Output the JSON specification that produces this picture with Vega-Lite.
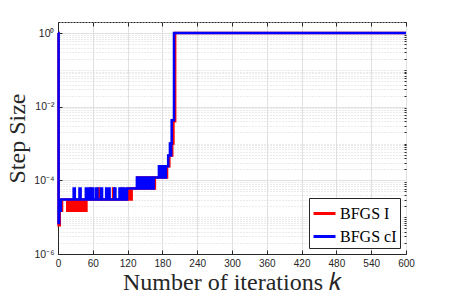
{
  "$schema": "https://vega.github.io/schema/vega-lite/v6.json",
  "width": 348,
  "height": 232,
  "autosize": {"type": "none"},
  "padding": {"left": 58, "top": 22, "right": 43, "bottom": 45},
  "background": "white",
  "config": {
    "view": {"stroke": "#262626", "strokeWidth": 1},
    "axis": {"domainColor": "#262626", "tickColor": "#262626", "labelColor": "#262626", "titleColor": "#262626"}
  },
  "data": {
    "values": [
      {"k": 0, "s": 1, "m": "BFGS I"},
      {"k": 1, "s": 6e-6, "m": "BFGS I"},
      {"k": 3, "s": 1.5e-5, "m": "BFGS I"},
      {"k": 7, "s": 3e-5, "m": "BFGS I"},
      {"k": 16, "s": 1.5e-5, "m": "BFGS I"},
      {"k": 17, "s": 3e-5, "m": "BFGS I"},
      {"k": 20, "s": 1.5e-5, "m": "BFGS I"},
      {"k": 21, "s": 3e-5, "m": "BFGS I"},
      {"k": 22, "s": 1.5e-5, "m": "BFGS I"},
      {"k": 23, "s": 3e-5, "m": "BFGS I"},
      {"k": 24, "s": 1.5e-5, "m": "BFGS I"},
      {"k": 25, "s": 3e-5, "m": "BFGS I"},
      {"k": 26, "s": 1.5e-5, "m": "BFGS I"},
      {"k": 27, "s": 3e-5, "m": "BFGS I"},
      {"k": 28, "s": 1.5e-5, "m": "BFGS I"},
      {"k": 29, "s": 3e-5, "m": "BFGS I"},
      {"k": 30, "s": 1.5e-5, "m": "BFGS I"},
      {"k": 31, "s": 3e-5, "m": "BFGS I"},
      {"k": 32, "s": 1.5e-5, "m": "BFGS I"},
      {"k": 33, "s": 3e-5, "m": "BFGS I"},
      {"k": 34, "s": 1.5e-5, "m": "BFGS I"},
      {"k": 35, "s": 3e-5, "m": "BFGS I"},
      {"k": 36, "s": 1.5e-5, "m": "BFGS I"},
      {"k": 37, "s": 3e-5, "m": "BFGS I"},
      {"k": 38, "s": 1.5e-5, "m": "BFGS I"},
      {"k": 39, "s": 3e-5, "m": "BFGS I"},
      {"k": 40, "s": 1.5e-5, "m": "BFGS I"},
      {"k": 41, "s": 3e-5, "m": "BFGS I"},
      {"k": 42, "s": 1.5e-5, "m": "BFGS I"},
      {"k": 43, "s": 3e-5, "m": "BFGS I"},
      {"k": 44, "s": 1.5e-5, "m": "BFGS I"},
      {"k": 45, "s": 3e-5, "m": "BFGS I"},
      {"k": 46, "s": 1.5e-5, "m": "BFGS I"},
      {"k": 47, "s": 3e-5, "m": "BFGS I"},
      {"k": 48, "s": 1.5e-5, "m": "BFGS I"},
      {"k": 49, "s": 3e-5, "m": "BFGS I"},
      {"k": 56, "s": 6e-5, "m": "BFGS I"},
      {"k": 57, "s": 3e-5, "m": "BFGS I"},
      {"k": 70, "s": 6e-5, "m": "BFGS I"},
      {"k": 71, "s": 3e-5, "m": "BFGS I"},
      {"k": 95, "s": 6e-5, "m": "BFGS I"},
      {"k": 96, "s": 3e-5, "m": "BFGS I"},
      {"k": 110, "s": 6e-5, "m": "BFGS I"},
      {"k": 111, "s": 3e-5, "m": "BFGS I"},
      {"k": 121, "s": 6e-5, "m": "BFGS I"},
      {"k": 122, "s": 3e-5, "m": "BFGS I"},
      {"k": 124, "s": 6e-5, "m": "BFGS I"},
      {"k": 125, "s": 3e-5, "m": "BFGS I"},
      {"k": 127, "s": 6e-5, "m": "BFGS I"},
      {"k": 137, "s": 1.2e-4, "m": "BFGS I"},
      {"k": 139, "s": 6e-5, "m": "BFGS I"},
      {"k": 141, "s": 1.2e-4, "m": "BFGS I"},
      {"k": 143, "s": 6e-5, "m": "BFGS I"},
      {"k": 145, "s": 1.2e-4, "m": "BFGS I"},
      {"k": 147, "s": 6e-5, "m": "BFGS I"},
      {"k": 150, "s": 1.2e-4, "m": "BFGS I"},
      {"k": 152, "s": 6e-5, "m": "BFGS I"},
      {"k": 155, "s": 1.2e-4, "m": "BFGS I"},
      {"k": 157, "s": 6e-5, "m": "BFGS I"},
      {"k": 160, "s": 1.2e-4, "m": "BFGS I"},
      {"k": 162, "s": 6e-5, "m": "BFGS I"},
      {"k": 164, "s": 1.2e-4, "m": "BFGS I"},
      {"k": 165, "s": 6e-5, "m": "BFGS I"},
      {"k": 167, "s": 1.2e-4, "m": "BFGS I"},
      {"k": 176, "s": 2.4e-4, "m": "BFGS I"},
      {"k": 178, "s": 1.2e-4, "m": "BFGS I"},
      {"k": 180, "s": 2.4e-4, "m": "BFGS I"},
      {"k": 182, "s": 1.2e-4, "m": "BFGS I"},
      {"k": 184, "s": 2.4e-4, "m": "BFGS I"},
      {"k": 186, "s": 1.2e-4, "m": "BFGS I"},
      {"k": 188, "s": 2.4e-4, "m": "BFGS I"},
      {"k": 192, "s": 4.7e-4, "m": "BFGS I"},
      {"k": 194, "s": 1e-3, "m": "BFGS I"},
      {"k": 195, "s": 4.7e-4, "m": "BFGS I"},
      {"k": 197, "s": 1e-3, "m": "BFGS I"},
      {"k": 199, "s": 4e-3, "m": "BFGS I"},
      {"k": 202, "s": 1, "m": "BFGS I"},
      {"k": 600, "s": 1, "m": "BFGS I"},
      {"k": 0, "s": 1, "m": "BFGS cI"},
      {"k": 1, "s": 7e-6, "m": "BFGS cI"},
      {"k": 2, "s": 1.5e-5, "m": "BFGS cI"},
      {"k": 5, "s": 3e-5, "m": "BFGS cI"},
      {"k": 27, "s": 6e-5, "m": "BFGS cI"},
      {"k": 29, "s": 3e-5, "m": "BFGS cI"},
      {"k": 37, "s": 6e-5, "m": "BFGS cI"},
      {"k": 39, "s": 3e-5, "m": "BFGS cI"},
      {"k": 48, "s": 6e-5, "m": "BFGS cI"},
      {"k": 50, "s": 3e-5, "m": "BFGS cI"},
      {"k": 54, "s": 6e-5, "m": "BFGS cI"},
      {"k": 56, "s": 3e-5, "m": "BFGS cI"},
      {"k": 59, "s": 6e-5, "m": "BFGS cI"},
      {"k": 61, "s": 3e-5, "m": "BFGS cI"},
      {"k": 66, "s": 6e-5, "m": "BFGS cI"},
      {"k": 68, "s": 3e-5, "m": "BFGS cI"},
      {"k": 74, "s": 6e-5, "m": "BFGS cI"},
      {"k": 76, "s": 3e-5, "m": "BFGS cI"},
      {"k": 83, "s": 6e-5, "m": "BFGS cI"},
      {"k": 85, "s": 3e-5, "m": "BFGS cI"},
      {"k": 87, "s": 6e-5, "m": "BFGS cI"},
      {"k": 89, "s": 3e-5, "m": "BFGS cI"},
      {"k": 97, "s": 6e-5, "m": "BFGS cI"},
      {"k": 99, "s": 3e-5, "m": "BFGS cI"},
      {"k": 106, "s": 6e-5, "m": "BFGS cI"},
      {"k": 108, "s": 3e-5, "m": "BFGS cI"},
      {"k": 109, "s": 6e-5, "m": "BFGS cI"},
      {"k": 111, "s": 3e-5, "m": "BFGS cI"},
      {"k": 112, "s": 6e-5, "m": "BFGS cI"},
      {"k": 114, "s": 3e-5, "m": "BFGS cI"},
      {"k": 115, "s": 6e-5, "m": "BFGS cI"},
      {"k": 117, "s": 3e-5, "m": "BFGS cI"},
      {"k": 119, "s": 6e-5, "m": "BFGS cI"},
      {"k": 136, "s": 1.2e-4, "m": "BFGS cI"},
      {"k": 138, "s": 6e-5, "m": "BFGS cI"},
      {"k": 140, "s": 1.2e-4, "m": "BFGS cI"},
      {"k": 142, "s": 6e-5, "m": "BFGS cI"},
      {"k": 144, "s": 1.2e-4, "m": "BFGS cI"},
      {"k": 146, "s": 6e-5, "m": "BFGS cI"},
      {"k": 148, "s": 1.2e-4, "m": "BFGS cI"},
      {"k": 150, "s": 6e-5, "m": "BFGS cI"},
      {"k": 152, "s": 1.2e-4, "m": "BFGS cI"},
      {"k": 154, "s": 6e-5, "m": "BFGS cI"},
      {"k": 156, "s": 1.2e-4, "m": "BFGS cI"},
      {"k": 158, "s": 6e-5, "m": "BFGS cI"},
      {"k": 160, "s": 1.2e-4, "m": "BFGS cI"},
      {"k": 162, "s": 6e-5, "m": "BFGS cI"},
      {"k": 165, "s": 1.2e-4, "m": "BFGS cI"},
      {"k": 174, "s": 2.4e-4, "m": "BFGS cI"},
      {"k": 176, "s": 1.2e-4, "m": "BFGS cI"},
      {"k": 178, "s": 2.4e-4, "m": "BFGS cI"},
      {"k": 180, "s": 1.2e-4, "m": "BFGS cI"},
      {"k": 182, "s": 2.4e-4, "m": "BFGS cI"},
      {"k": 184, "s": 1.2e-4, "m": "BFGS cI"},
      {"k": 186, "s": 2.4e-4, "m": "BFGS cI"},
      {"k": 190, "s": 4.7e-4, "m": "BFGS cI"},
      {"k": 193, "s": 1e-3, "m": "BFGS cI"},
      {"k": 194, "s": 4.7e-4, "m": "BFGS cI"},
      {"k": 195, "s": 1e-3, "m": "BFGS cI"},
      {"k": 196, "s": 4.3e-3, "m": "BFGS cI"},
      {"k": 200, "s": 1, "m": "BFGS cI"},
      {"k": 600, "s": 1, "m": "BFGS cI"}
    ]
  },
  "layer": [
    {
      "mark": {"type": "line", "interpolate": "step-after", "strokeWidth": 2.5, "clip": false},
      "encoding": {
        "x": {
          "field": "k", "type": "quantitative",
          "scale": {"domain": [0, 600], "nice": false, "zero": false},
          "axis": {
            "orient": "bottom",
            "values": [0, 60, 120, 180, 240, 300, 360, 420, 480, 540, 600],
            "grid": true, "gridColor": "#e1e1e1", "gridWidth": 1,
            "tickSize": -4, "labelPadding": 8,
            "labelFont": "Liberation Sans", "labelFontSize": 10, "labelFlush": false,
            "title": "Number of iterations 𝑘",
            "titleFont": "Liberation Serif", "titleFontSize": 24, "titleFontWeight": "normal",
            "titlePadding": 2
          }
        },
        "y": {
          "field": "s", "type": "quantitative",
          "scale": {"type": "log", "domain": [1e-6, 2], "nice": false},
          "axis": {
            "orient": "left",
            "values": [1e-6, 1e-4, 1e-2, 1],
            "labelExpr": "datum.value >= 0.5 ? '10⁰' : datum.value >= 0.005 ? '10⁻²' : datum.value >= 0.00005 ? '10⁻⁴' : '10⁻⁶'",
            "grid": true, "gridColor": "#e1e1e1", "gridWidth": 1,
            "tickSize": -4, "labelPadding": 8,
            "labelFont": "Liberation Sans", "labelFontSize": 10.5,
            "title": "Step Size",
            "titleFont": "Liberation Serif", "titleFontSize": 24, "titleFontWeight": "normal",
            "titlePadding": 4
          }
        },
        "color": {
          "field": "m", "type": "nominal",
          "scale": {"domain": ["BFGS I", "BFGS cI"], "range": ["#ff0000", "#0000ff"]},
          "legend": {
            "title": null, "orient": "bottom-right", "offset": 6, "padding": 3,
            "strokeColor": "#262626", "fillColor": "white", "cornerRadius": 0,
            "symbolType": "stroke", "symbolStrokeWidth": 3, "symbolSize": 484,
            "labelFont": "Liberation Serif", "labelFontSize": 16, "labelColor": "#000000",
            "labelOffset": 3, "rowPadding": 2
          }
        }
      }
    },
    {
      "mark": {"type": "point", "opacity": 0},
      "encoding": {
        "x": {
          "field": "k", "type": "quantitative",
          "scale": {"domain": [0, 600], "nice": false, "zero": false},
          "axis": {
            "orient": "top", "values": [0, 60, 120, 180, 240, 300, 360, 420, 480, 540, 600],
            "labels": false, "grid": false, "domain": false, "tickSize": -4, "title": null
          }
        },
        "y": {
          "field": "s", "type": "quantitative",
          "scale": {"type": "log", "domain": [1e-6, 2], "nice": false},
          "axis": {
            "orient": "right",
            "values": [2e-6, 3e-6, 4e-6, 5e-6, 6e-6, 7e-6, 8e-6, 9e-6, 1e-5, 2e-5, 3e-5, 4e-5, 5e-5, 6e-5, 7e-5, 8e-5, 9e-5, 2e-4, 3e-4, 4e-4, 5e-4, 6e-4, 7e-4, 8e-4, 9e-4, 1e-3, 2e-3, 3e-3, 4e-3, 5e-3, 6e-3, 7e-3, 8e-3, 9e-3, 2e-2, 3e-2, 4e-2, 5e-2, 6e-2, 7e-2, 8e-2, 9e-2, 1e-1, 2e-1, 3e-1, 4e-1, 5e-1, 6e-1, 7e-1, 8e-1, 9e-1, 2],
            "labels": false, "grid": true, "gridColor": "#d6d6d6", "gridDash": [1, 2], "gridWidth": 1,
            "domain": false, "tickSize": -2, "title": null
          }
        }
      }
    }
  ],
  "resolve": {"axis": {"x": "independent", "y": "independent"}}
}
